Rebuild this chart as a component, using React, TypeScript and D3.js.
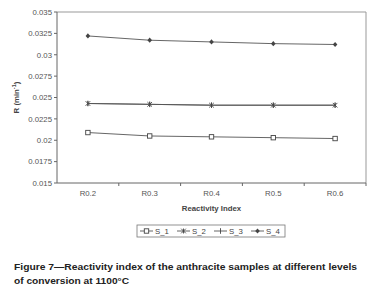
import React from "react";
import * as d3 from "d3";

const categories = ["R0.2", "R0.3", "R0.4", "R0.5", "R0.6"];
const s1 = [0.0209, 0.0205, 0.0204, 0.0203, 0.0202];
const s2 = [0.0243, 0.0242, 0.0241, 0.0241, 0.0241];
const s3 = [0.0243, 0.0242, 0.0241, 0.0241, 0.0241];
const s4 = [0.0322, 0.0317, 0.0315, 0.0313, 0.0312];
const yTicks = [0.015, 0.0175, 0.02, 0.0225, 0.025, 0.0275, 0.03, 0.0325, 0.035];
const seriesNames = ["S_1", "S_2", "S_3", "S_4"];

const W = 380, H = 298;
const left = 57, right = 366, top = 12, bottom = 183;

function Marker({ kind, x, y }: { kind: string; x: number; y: number }) {
  const c = "#444";
  if (kind === "S_1")
    return <rect x={x - 2.2} y={y - 2.2} width={4.4} height={4.4} fill="#fff" stroke={c} strokeWidth={0.9} />;
  if (kind === "S_2")
    return (
      <g stroke={c} strokeWidth={0.9}>
        <line x1={x - 2.3} y1={y - 2.3} x2={x + 2.3} y2={y + 2.3} />
        <line x1={x - 2.3} y1={y + 2.3} x2={x + 2.3} y2={y - 2.3} />
        <line x1={x} y1={y - 2.5} x2={x} y2={y + 2.5} />
      </g>
    );
  if (kind === "S_3")
    return (
      <g stroke={c} strokeWidth={0.9}>
        <line x1={x} y1={y - 2.8} x2={x} y2={y + 2.8} />
      </g>
    );
  return <path d={`M${x},${y - 2.6}L${x + 2.3},${y}L${x},${y + 2.6}L${x - 2.3},${y}Z`} fill={c} />;
}

export default function App() {
  const x = d3.scaleBand().domain(categories).range([left, right]);
  const y = d3.scaleLinear().domain([0.015, 0.035]).range([bottom, top]);
  const series = [s1, s2, s3, s4];
  const line = d3
    .line<number>()
    .x((_, i) => (x(categories[i]) as number) + x.bandwidth() / 2)
    .y((d) => y(d));
  const font = "Liberation Sans, Arial, sans-serif";
  const legendX = 137, legendY = 225, legendW = 148, legendH = 12;
  const itemW = legendW / 4;
  return (
    <svg width={W} height={H} style={{ position: "absolute", left: 0, top: 0, background: "#fff" }} fontFamily={font}>
      <rect x={0} y={0} width={W} height={H} fill="#fff" />
      {/* plot border */}
      <line x1={left} y1={top} x2={right} y2={top} stroke="#999" strokeWidth={1} />
      <line x1={right} y1={top} x2={right} y2={bottom} stroke="#999" strokeWidth={1} />
      {/* axes */}
      <line x1={left} y1={top} x2={left} y2={bottom} stroke="#666" strokeWidth={1} />
      <line x1={left} y1={bottom} x2={right} y2={bottom} stroke="#666" strokeWidth={1} />
      {yTicks.map((t) => (
        <g key={t}>
          <line x1={left - 3} x2={left} y1={y(t)} y2={y(t)} stroke="#666" />
          <text x={left - 5} y={y(t) + 2.8} textAnchor="end" fontSize={7.8} fill="#555">
            {String(t)}
          </text>
        </g>
      ))}
      {categories.map((c, i) => (
        <g key={c}>
          {i > 0 && <line x1={x(c)} x2={x(c)} y1={bottom} y2={bottom + 3} stroke="#666" />}
          <text x={(x(c) as number) + x.bandwidth() / 2} y={bottom + 13} textAnchor="middle" fontSize={7.8} fill="#555">
            {c}
          </text>
        </g>
      ))}
      <line x1={right} x2={right} y1={bottom} y2={bottom + 3} stroke="#666" />
      {series.map((s, si) => (
        <g key={si}>
          <path d={line(s) || ""} fill="none" stroke="#555" strokeWidth={0.9} />
          {s.map((v, i) => (
            <Marker key={i} kind={seriesNames[si]} x={(x(categories[i]) as number) + x.bandwidth() / 2} y={y(v)} />
          ))}
        </g>
      ))}
      <text
        transform={`translate(${19},${(top + bottom) / 2}) rotate(-90)`}
        textAnchor="middle"
        fontSize={7.8}
        fontWeight="bold"
        fill="#444"
      >
        R (min<tspan dy={-3} fontSize={5.5}>-1</tspan><tspan dy={3}>)</tspan>
      </text>
      <text x={(left + right) / 2} y={211} textAnchor="middle" fontSize={7.8} fontWeight="bold" fill="#444">
        Reactivity Index
      </text>
      {/* legend */}
      <rect x={legendX} y={legendY} width={legendW} height={legendH} fill="#fff" stroke="#777" strokeWidth={0.8} />
      {seriesNames.map((n, i) => {
        const lx = legendX + 3 + i * itemW;
        const cy = legendY + legendH / 2;
        return (
          <g key={n}>
            <line x1={lx} x2={lx + 13} y1={cy} y2={cy} stroke="#555" strokeWidth={0.9} />
            <Marker kind={n} x={lx + 6.5} y={cy} />
            <text x={lx + 15} y={cy + 2.8} fontSize={7.8} fill="#444">
              {n}
            </text>
          </g>
        );
      })}
      <text x={14} y={270} fontSize={9.5} fontWeight="bold" fill="#222" textLength={343} lengthAdjust="spacingAndGlyphs">
        Figure 7—Reactivity index of the anthracite samples at different  levels
      </text>
      <text x={14} y={284} fontSize={9.5} fontWeight="bold" fill="#222" textLength={115} lengthAdjust="spacingAndGlyphs">
        of conversion at 1100°C
      </text>
    </svg>
  );
}
